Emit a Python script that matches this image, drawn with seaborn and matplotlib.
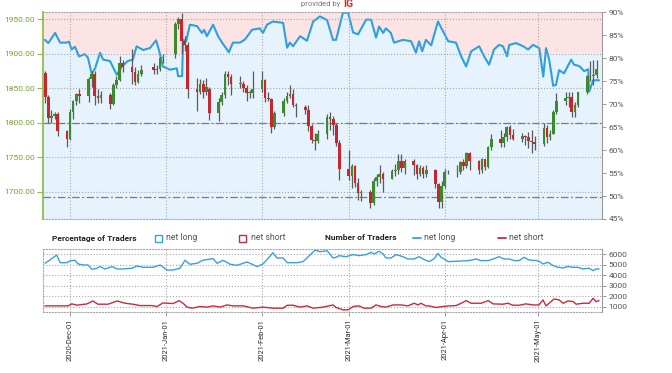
import numpy as np
import pandas as pd
import matplotlib
matplotlib.use("Agg")
import matplotlib.pyplot as plt
import matplotlib.dates as mdates
from matplotlib.patches import Rectangle
from matplotlib.lines import Line2D
import seaborn as sns

# ---------------- data ----------------
# trading days (gold spot) 2020-11-23 .. 2021-05-20, holidays Dec 25 / Jan 1 skipped
candle_holidays = ["2020-12-25", "2021-01-01"]
candle_start, candle_end = "2020-11-23", "2021-05-20"

opens = [1872, 1837, 1806, 1810, 1812,
         1788, 1777, 1815, 1831, 1841,
         1839, 1863, 1870, 1838, 1836,
         1840, 1827, 1855, 1862, 1887,
         1881, 1873, 1859, 1871,
         1880, 1876, 1877, 1893,
         1900, 1943, 1950, 1918, 1913,
         1849, 1844, 1856, 1845, 1848,
         1814, 1830, 1840, 1871, 1866,
         1856, 1856, 1850, 1843, 1843,
         1848, 1861, 1835, 1834, 1793,
         1814, 1832, 1838, 1842, 1825,
         1822, 1819, 1795, 1775, 1774,
         1784, 1808, 1805, 1797, 1770,
         1733, 1723, 1737, 1712, 1698,
         1700, 1683, 1716, 1722, 1726,
         1719, 1730, 1731, 1745, 1735,
         1745, 1738, 1726, 1734, 1725,
         1732, 1711, 1685, 1708, 1728,
         1729, 1728, 1743, 1737, 1756,
         1744, 1732, 1747, 1736, 1764,
         1777, 1771, 1779, 1794, 1782,
         1777, 1780, 1779, 1773, 1772,
         1769, 1792, 1779, 1784, 1815,
         1831, 1836, 1837, 1815, 1826,
         1844, 1867, 1868, 1869]
highs = [1875, 1840, 1818, 1816, 1815,
         1790, 1820, 1833, 1843, 1848,
         1866, 1875, 1875, 1848, 1846,
         1843, 1857, 1868, 1896, 1890,
         1906, 1881, 1876, 1883,
         1887, 1884, 1895, 1900,
         1945, 1953, 1959, 1925, 1916,
         1864, 1863, 1862, 1865, 1852,
         1835, 1845, 1875, 1875, 1870,
         1867, 1860, 1855, 1847, 1875,
         1875, 1863, 1845, 1836, 1817,
         1836, 1845, 1855, 1848, 1828,
         1826, 1825, 1798, 1785, 1790,
         1812, 1816, 1810, 1799, 1775,
         1760, 1740, 1738, 1720, 1702,
         1702, 1720, 1725, 1739, 1728,
         1733, 1740, 1755, 1755, 1747,
         1748, 1740, 1738, 1737, 1738,
         1733, 1713, 1715, 1733, 1731,
         1738, 1745, 1748, 1758, 1757,
         1746, 1749, 1748, 1766, 1784,
         1790, 1785, 1795, 1797, 1791,
         1785, 1782, 1786, 1790, 1780,
         1799, 1797, 1789, 1818, 1843,
         1845, 1844, 1845, 1830, 1845,
         1869, 1889, 1891, 1890]
lows = [1829, 1800, 1800, 1805, 1781,
        1764, 1775, 1805, 1826, 1828,
        1830, 1852, 1825, 1829, 1829,
        1820, 1825, 1850, 1860, 1873,
        1856, 1855, 1857, 1868,
        1870, 1871, 1875, 1887,
        1893, 1935, 1900, 1904, 1836,
        1817, 1842, 1835, 1840, 1804,
        1802, 1825, 1835, 1855, 1840,
        1850, 1845, 1831, 1835, 1836,
        1845, 1830, 1831, 1785, 1791,
        1810, 1828, 1836, 1822, 1808,
        1812, 1788, 1771, 1760, 1770,
        1776, 1790, 1782, 1766, 1717,
        1717, 1706, 1707, 1688, 1687,
        1676, 1681, 1708, 1713, 1700,
        1718, 1723, 1725, 1728, 1726,
        1724, 1719, 1723, 1720, 1722,
        1705, 1677, 1677, 1706, 1725,
        1721, 1725, 1731, 1734, 1731,
        1725, 1727, 1732, 1734, 1760,
        1765, 1765, 1774, 1776, 1775,
        1772, 1768, 1763, 1756, 1760,
        1766, 1770, 1775, 1783, 1813,
        1825, 1823, 1808, 1808, 1822,
        1841, 1860, 1855, 1865]
closes = [1837, 1806, 1810, 1812, 1788,
          1777, 1815, 1831, 1841, 1839,
          1863, 1870, 1838, 1836, 1840,
          1827, 1855, 1862, 1887, 1881,
          1873, 1859, 1871, 1876,
          1876, 1877, 1893, 1895,
          1943, 1950, 1918, 1913, 1849,
          1844, 1856, 1845, 1851, 1814,
          1830, 1840, 1871, 1866, 1856,
          1856, 1850, 1843, 1843, 1848,
          1861, 1835, 1834, 1793, 1814,
          1832, 1838, 1842, 1825, 1824,
          1819, 1795, 1775, 1774, 1784,
          1808, 1805, 1797, 1770, 1733,
          1723, 1737, 1712, 1698, 1700,
          1683, 1716, 1722, 1726, 1719,
          1730, 1731, 1745, 1735, 1745,
          1738, 1726, 1734, 1725, 1732,
          1711, 1685, 1708, 1728, 1729,
          1728, 1743, 1737, 1756, 1744,
          1732, 1747, 1736, 1764, 1777,
          1771, 1779, 1794, 1782, 1777,
          1780, 1779, 1773, 1772, 1769,
          1792, 1779, 1784, 1815, 1831,
          1836, 1837, 1815, 1826, 1844,
          1867, 1868, 1869, 1877]

# % of traders net long (days after 2020-12-01)
sent_days = [-8.1, -7.0, -4.8, -3.2, -1.1, -0.3, 0.5, 1.6, 2.9, 4.8,
             5.8, 7.0, 8.1, 9.7, 10.7, 12.9, 15.1, 16.7, 18.7, 20.3,
             21.5, 23.6, 25.8, 27.8, 28.7, 30.0, 32.3, 34.5, 34.9, 36.2,
             36.5, 37.5, 38.7, 41.0, 42.6, 43.3, 44.2, 46.2, 47.8, 49.1,
             51.3, 52.6, 54.9, 56.5, 58.8, 61.3, 62.3, 63.6, 65.5, 68.8,
             70.1, 71.0, 72.0, 74.3, 76.5, 78.5, 80.7, 83.0, 84.9, 85.9,
             88.1, 89.8, 91.4, 93.0, 95.6, 97.2, 98.8, 99.8, 101.1, 102.0,
             103.6, 104.6, 107.5, 110.1, 111.7, 112.7, 113.7, 114.9, 116.6, 118.8,
             120.4, 122.1, 124.6, 126.3, 127.9, 129.5, 132.1, 133.7, 135.3, 136.9,
             138.5, 139.8, 141.1, 141.8, 144.0, 146.3, 147.9, 149.5, 151.5, 152.8,
             153.7, 154.7, 156.0, 156.9, 157.9, 159.5, 161.8, 162.7, 164.4, 166.0,
             167.3, 167.6, 168.9, 170.8]
sent_pct = [84.0, 83.3, 85.5, 83.4, 83.4, 83.6, 81.9, 82.5, 80.4, 80.9,
            80.1, 76.6, 77.8, 81.2, 79.7, 79.4, 76.4, 78.2, 79.4, 79.7,
            82.6, 81.8, 82.2, 83.9, 81.8, 78.2, 77.5, 77.8, 76.1, 76.1,
            84.0, 83.7, 87.3, 87.0, 85.5, 86.2, 84.8, 87.3, 84.8, 83.4,
            81.3, 83.4, 83.4, 84.1, 86.2, 86.5, 85.5, 87.3, 88.0, 87.7,
            82.3, 83.4, 82.6, 84.8, 83.8, 88.0, 89.1, 88.3, 84.0, 84.0,
            89.9, 89.9, 85.6, 85.2, 88.4, 88.4, 84.5, 86.9, 85.5, 86.5,
            85.5, 83.4, 84.0, 83.7, 81.2, 83.7, 81.5, 84.0, 82.8, 88.0,
            85.9, 83.7, 83.4, 80.4, 78.2, 81.5, 82.6, 80.4, 78.6, 81.9,
            82.9, 82.6, 80.4, 82.9, 83.3, 82.6, 81.9, 82.9, 82.2, 76.0,
            82.2, 79.7, 74.0, 74.2, 77.4, 76.7, 79.7, 78.6, 78.3, 77.2,
            77.6, 72.7, 75.2, 75.2]

# number of traders net long
long_days = [-8.1, -6.5, -4.3, -3.2, -1.1, 0.0, 1.6, 2.6, 4.2, 5.8,
             7.1, 8.7, 9.7, 11.3, 13.6, 15.2, 17.1, 20.0, 21.6, 23.6,
             26.8, 29.1, 31.3, 33.3, 35.5, 37.1, 38.7, 41.0, 42.9, 46.2,
             47.5, 49.4, 51.7, 53.9, 57.2, 60.4, 62.3, 63.9, 65.5, 66.8,
             68.8, 70.1, 73.3, 75.2, 77.5, 79.1, 80.7, 83.0, 84.9,
             85.9, 86.9, 89.1, 91.4, 93.3, 95.6, 97.2, 98.2, 99.8, 101.1,
             102.0, 103.6, 105.3, 107.5, 109.1, 111.1, 112.7, 114.0, 115.9, 117.5,
             118.8, 119.8, 120.8, 122.1, 124.6, 128.8, 131.1, 132.7, 135.0, 136.6,
             138.5, 140.1, 141.8, 143.4, 145.0, 146.6, 148.2, 150.5, 151.5, 152.7,
             154.3, 156.0, 157.6, 159.2, 160.8, 162.4, 164.0, 165.6, 167.6, 168.9,
             169.8, 170.8]
long_count = [5140, 5460, 5930, 5200, 5200, 5370, 5430, 5080, 4980, 4980,
              4570, 4670, 4830, 4600, 4830, 4600, 4600, 4670, 4890, 4760,
              4760, 4980, 4500, 4500, 4670, 5430, 5050, 5140, 5430, 5590,
              5140, 5430, 5050, 4950, 5270, 4830, 5080, 5590, 6150, 5650,
              5650, 5200, 5200, 5300, 5930, 6400, 6250, 6340, 5650,
              5710, 5870, 5770, 5970, 5870, 5970, 6190, 6030, 6290, 6030,
              5650, 5650, 5970, 5770, 5550, 5550, 5770, 5550, 5300, 5550,
              6090, 5710, 5550, 5300, 5330, 5400, 5550, 5400, 5400, 5550,
              5770, 5550, 5550, 5400, 5400, 5710, 5460, 5400, 5330, 5080,
              5240, 4920, 4760, 4700, 4830, 4760, 4760, 4600, 4670, 4440,
              4600, 4600]

# number of traders net short
short_days = [-8.1, -4.2, -0.6, 0.6, 2.3, 5.5, 7.4, 9.0, 12.3, 15.2,
              17.8, 20.3, 22.6, 26.5, 28.1, 30.0, 33.3, 35.2, 36.5, 37.8,
              39.4, 42.0, 44.2, 46.2, 48.4, 50.7, 52.6, 55.9, 59.1, 62.3,
              65.5, 68.8, 70.1, 72.0, 74.3, 76.5, 78.5, 81.7, 84.9,
              85.9, 88.1, 89.8, 91.4, 93.3, 94.9, 97.2, 98.8, 100.4, 102.0,
              104.3, 106.9, 109.1, 111.1, 112.4, 113.3, 114.9, 115.9, 118.2, 120.4,
              122.4, 124.6, 126.3, 127.9, 129.5, 132.7, 135.0, 136.6, 139.8, 141.4,
              143.0, 145.0, 147.2, 149.5, 151.4, 152.7, 153.7, 155.3, 156.3, 157.9,
              159.2, 160.8, 162.4, 163.4, 165.6, 167.6, 168.9, 169.8, 170.8]
short_count = [1080, 1080, 1080, 1270, 1150, 1270, 1550, 1240, 1240, 1550,
               1330, 1240, 1110, 1110, 1020, 1360, 1300, 1580, 1330, 960,
               860, 1020, 960, 1080, 960, 1170, 1080, 1080, 860, 960,
               860, 860, 1140, 1140, 960, 1080, 860, 960, 1170,
               930, 700, 700, 1020, 1080, 860, 860, 1170, 1020, 960,
               1170, 1170, 1080, 1330, 1170, 1330, 1080, 1080, 930, 1020,
               1080, 1110, 1330, 1580, 1330, 1330, 1580, 1270, 1240, 1330,
               1140, 1140, 1270, 1170, 1170, 1650, 1080, 1490, 1740, 1650,
               1330, 1550, 1490, 1240, 1330, 1330, 1800, 1490, 1580]

price_ticks = [1700, 1750, 1800, 1850, 1900, 1950]
pct_ticks = [45, 50, 55, 60, 65, 70, 75, 80, 85, 90]
count_ticks = [1000, 2000, 3000, 4000, 5000, 6000]

# ---------------- style ----------------
sns.set_theme(style="white")
plt.rcParams['font.family'] = ['Roboto', 'DejaVu Sans']

BLUE = '#2f9fe0'
RED = '#cc2a3a'
GREEN_C = '#3c8a2e'
RED_C = '#c8262e'
PINK_BG = '#fde4e4'
BLUE_BG = '#e6f3fc'
GRID = '#a8a8a8'
W, H = 672, 373

fig = plt.figure(figsize=(W / 100, H / 100), dpi=100)
fig.patch.set_facecolor('white')
L, R = 43 / W, 601.7 / W
ax_pct = fig.add_axes([L, 1 - 219 / H, R - L, (219 - 12.3) / H])
ax_px = ax_pct.twinx()
ax_cnt = fig.add_axes([L, 1 - 311.7 / H, R - L, (311.7 - 249) / H], sharex=ax_pct)

base = pd.Timestamp('2020-12-01')
to_dates = lambda d: base + pd.to_timedelta(np.asarray(d, dtype=float), unit='D')

# candle dates
cdates = pd.bdate_range(candle_start, candle_end)
cdates = cdates[~cdates.isin(pd.to_datetime(candle_holidays))]
cdf = pd.DataFrame({'date': cdates, 'open': opens, 'high': highs,
                    'low': lows, 'close': closes})

sent = pd.DataFrame({'date': to_dates(sent_days), 'pct': sent_pct})
longs = pd.DataFrame({'date': to_dates(long_days), 'n': long_count})
shorts = pd.DataFrame({'date': to_dates(short_days), 'n': short_count})

# ---------- main panel: sentiment background ----------
ax_pct.set_facecolor(BLUE_BG)
ax_pct.set_ylim(45, 90)
ax_pct.axhspan(81.07, 90, color=PINK_BG, lw=0, zorder=0.2)
ax_pct.fill_between(sent['date'], sent['pct'], 45, color=BLUE_BG, lw=0, zorder=0.3)
sns.lineplot(data=sent, x='date', y='pct', ax=ax_pct, color=BLUE, lw=1.5, zorder=2)
ax_pct.set_axisbelow(False)
ax_pct.xaxis.grid(True, ls=':', color=GRID, lw=0.8)
ax_pct.yaxis.grid(False)
ax_pct.yaxis.tick_right()
ax_pct.set_yticks(pct_ticks)
ax_pct.set_yticklabels([f'{t}%' for t in pct_ticks])
ax_pct.tick_params(axis='y', right=True, left=False, length=3, width=0.7,
                   color='#999', labelsize=6, labelcolor='#555', pad=2)
ax_pct.set_xlabel('')
ax_pct.set_ylabel('')
ax_pct.tick_params(axis='x', bottom=False, labelbottom=False)

# ---------- candles ----------
x = mdates.date2num(cdf['date'])
up = cdf['close'] >= cdf['open']
body_bottom = np.minimum(cdf['open'], cdf['close'])
body_h = np.maximum(np.abs(cdf['close'] - cdf['open']), 1.2)
ax_px.vlines(x, cdf['low'], cdf['high'], color='#5a5a5a', lw=0.9, zorder=3)
ax_px.bar(x, body_h, bottom=body_bottom, width=0.85,
          color=np.where(up, GREEN_C, RED_C), lw=0, zorder=4)
ax_px.set_ylim(1660.5, 1959.7)
ax_px.yaxis.set_ticks_position('left')
ax_px.yaxis.set_label_position('left')
ax_px.set_yticks(price_ticks)
ax_px.set_yticklabels([f'{t:.2f}' for t in price_ticks])
ax_px.tick_params(axis='y', left=True, right=False, length=4, width=0.8,
                  color='#8dc04b', labelsize=6, labelcolor='#74a035', pad=2)
ax_px.yaxis.grid(True, ls=':', color=GRID, lw=0.8)
ax_px.set_axisbelow(True)
dashdot = (0, (6, 2, 1.5, 2))
ax_px.axhline(1800, ls=dashdot, color='#7a7a7a', lw=0.9, zorder=1)
ax_px.axhline(1693, ls=dashdot, color='#7a7a7a', lw=0.9, zorder=1)

for a in (ax_pct, ax_px):
    for s in a.spines.values():
        s.set_visible(False)
ax_px.spines['left'].set_visible(True)
ax_px.spines['left'].set_color('#8dc04b')
ax_px.spines['left'].set_linewidth(1.3)
ax_pct.spines['right'].set_visible(True)
ax_pct.spines['right'].set_color('#9a9a9a')
ax_pct.spines['right'].set_linewidth(0.8)
for side in ('top', 'bottom'):
    ax_pct.spines[side].set_visible(True)
    ax_pct.spines[side].set_linestyle(':')
    ax_pct.spines[side].set_color(GRID)
    ax_pct.spines[side].set_linewidth(0.8)

# ---------- bottom panel: number of traders ----------
ax_cnt.set_facecolor('white')
sns.lineplot(data=longs, x='date', y='n', ax=ax_cnt, color='#36a2dc', lw=1.0)
sns.lineplot(data=shorts, x='date', y='n', ax=ax_cnt, color=RED, lw=1.0)
ax_cnt.set_ylim(524, 6505)
ax_cnt.yaxis.tick_right()
ax_cnt.set_yticks(count_ticks)
ax_cnt.tick_params(axis='y', right=True, left=False, length=3, width=0.7,
                   color='#999', labelsize=6, labelcolor='#555', pad=2)
ax_cnt.grid(True, ls=':', color=GRID, lw=0.8)
ax_cnt.set_xlabel('')
ax_cnt.set_ylabel('')
for side, s in ax_cnt.spines.items():
    if side == 'right':
        s.set_color('#9a9a9a')
        s.set_linewidth(0.8)
    else:
        s.set_linestyle(':')
        s.set_color(GRID)
        s.set_linewidth(0.8)

ax_cnt.xaxis.set_major_locator(mdates.MonthLocator(bymonthday=1))
ax_cnt.xaxis.set_major_formatter(mdates.DateFormatter('%Y-%b-%d'))
ax_cnt.tick_params(axis='x', bottom=True, length=3, width=0.7, color='#999',
                   labelsize=5.4, labelcolor='#2a2a2a', labelrotation=90, pad=2)
ax_cnt.set_xlim(base - pd.Timedelta(days=8.717), base + pd.Timedelta(days=171.66))

# ---------- legend row & credits ----------
def fx(px):
    return px / W

def fy(py):
    return 1 - py / H

ly = 238
fig.text(fx(52), fy(ly), 'Percentage of Traders', fontsize=6, fontweight='bold',
         color='#222', va='center', ha='left')
fig.patches.append(Rectangle((fx(155), fy(ly + 3.5)), fx(7), 7 / H, transform=fig.transFigure,
                             fill=False, ec='#35a3dc', lw=1.0))
fig.text(fx(166), fy(ly), 'net long', fontsize=6.2, color='#555', va='center', ha='left')
fig.patches.append(Rectangle((fx(239), fy(ly + 3.5)), fx(7), 7 / H, transform=fig.transFigure,
                             fill=False, ec=RED, lw=1.0))
fig.text(fx(251), fy(ly), 'net short', fontsize=6.2, color='#555', va='center', ha='left')
fig.text(fx(325), fy(ly), 'Number of Traders', fontsize=6, fontweight='bold',
         color='#222', va='center', ha='left')
fig.lines.append(Line2D([fx(413), fx(421)], [fy(ly), fy(ly)], transform=fig.transFigure,
                        color='#35a3dc', lw=1.3))
fig.text(fx(424), fy(ly), 'net long', fontsize=6.2, color='#555', va='center', ha='left')
fig.lines.append(Line2D([fx(498), fx(506)], [fy(ly), fy(ly)], transform=fig.transFigure,
                        color=RED, lw=1.3))
fig.text(fx(509), fy(ly), 'net short', fontsize=6.2, color='#555', va='center', ha='left')

fig.text(fx(340), fy(4), 'provided by', fontsize=5.5, color='#777', va='center', ha='right')
fig.text(fx(343), fy(4), 'IG', fontsize=7.5, fontweight='bold', color='#e3262d',
         va='center', ha='left')

fig.savefig('out.png', dpi=100, facecolor='white')
